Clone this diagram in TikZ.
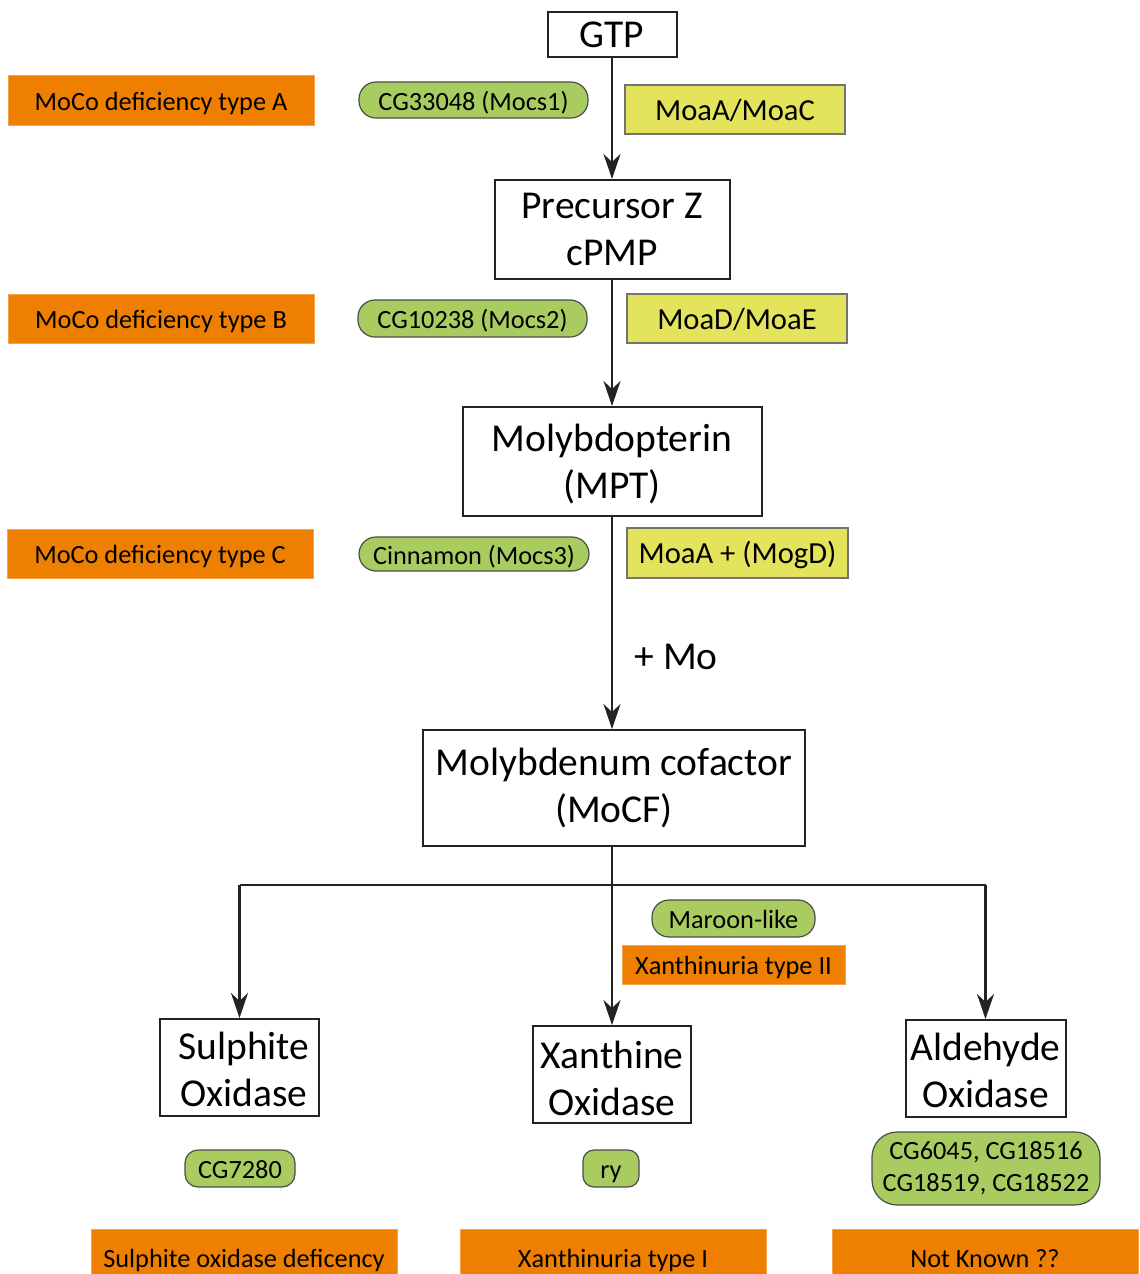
\documentclass[tikz,border=0pt]{standalone}
\usepackage{fontspec}
\setmainfont{Carlito}
\usetikzlibrary{arrows.meta}
\definecolor{orangec}{RGB}{239,127,0}
\definecolor{greenc}{RGB}{169,204,96}
\definecolor{yellowc}{RGB}{228,228,92}
\definecolor{linec}{RGB}{35,35,35}
\newcommand\mytwolines[3]{\rule{0pt}{#1}\smash{#2}\\\smash{#3}}
\begin{document}
\begin{tikzpicture}[x=1pt,y=-1pt,
  bigbox/.style={draw=linec, line width=2pt, fill=white, inner sep=0pt, align=center, font=\fontsize{39.5}{47}\selectfont},
  orangebox/.style={fill=orangec, draw=orangec!70!white, line width=0.8pt, inner sep=0pt, text height=22pt, text depth=2pt, font=\fontsize{26.3}{30}\selectfont},
  pill/.style={fill=greenc, draw=black!70, line width=1.2pt, rounded corners=17pt, inner sep=0pt, align=center, font=\fontsize{26.3}{32}\selectfont},
  pillone/.style={pill, text height=22pt, text depth=2pt},
  yelbox/.style={fill=yellowc, draw=black!55, line width=1.2pt, inner sep=0pt, text height=24pt, text depth=3pt, font=\fontsize{30.6}{36}\selectfont},
  arr/.style={draw=linec, line width=2.2pt, -{Stealth[length=25pt,width=17pt,inset=8pt]}},
  plain/.style={draw=linec, line width=2.2pt}
]
\useasboundingbox (0,0) rectangle (1140,1274);
\fill[white] (0,0) rectangle (1140,1274);

% main column
\node[bigbox, minimum width=129pt, minimum height=45pt] (gtp) at (612,34.5) {GTP};
\node[bigbox, minimum width=235pt, minimum height=99pt] (prec) at (612,229.5) {Precursor Z\\cPMP};
\node[bigbox, text depth=0pt, minimum width=299pt, minimum height=109pt] (mpt) at (612,461.5) {Molybdopterin\\(MPT)};
\node[bigbox, minimum width=382pt, minimum height=116pt] (mocf) at (614,788) {Molybdenum cofactor\\(MoCF)};
\node[bigbox, minimum width=159pt, minimum height=97pt] (sul) at (239.5,1067.5) {\mytwolines{30pt}{\hspace*{9pt}Sulphite}{\hspace*{9pt}Oxidase}};
\node[bigbox, minimum width=158pt, minimum height=97pt] (xan) at (612,1074.5) {\mytwolines{34pt}{Xanthine}{Oxidase}};
\node[bigbox, minimum width=160pt, minimum height=97pt] (ald) at (985.5,1068.5) {\mytwolines{30pt}{Aldehyde}{Oxidase}};
\node[font=\fontsize{39.5}{47}\selectfont, inner sep=0pt] (mo) at (676,657) {+ Mo};

% orange boxes
\node[orangebox, minimum width=306pt, minimum height=50pt] (dA) at (161,100) {MoCo deficiency type A};
\node[orangebox, minimum width=306pt, minimum height=49pt] (dB) at (161,318.5) {MoCo deficiency type B};
\node[orangebox, minimum width=306pt, minimum height=49pt] (dC) at (160,553.5) {MoCo deficiency type C};
\node[orangebox, minimum width=223pt, minimum height=39pt] (x2) at (733.5,964.5) {Xanthinuria type II};
\node[orangebox, minimum width=306pt, minimum height=56pt] (sd) at (244,1257) {Sulphite oxidase deficency};
\node[orangebox, minimum width=306pt, minimum height=56pt] (x1) at (613,1257) {Xanthinuria type I};
\node[orangebox, minimum width=306pt, minimum height=56pt] (nk) at (985,1257) {Not Known ??};

% green pills
\node[pillone, minimum width=229pt, minimum height=36pt] (g1) at (473.5,100) {CG33048 (Mocs1)};
\node[pillone, minimum width=229pt, minimum height=37pt] (g2) at (472.5,318.5) {CG10238 (Mocs2)};
\node[pillone, minimum width=230pt, minimum height=34pt] (g3) at (474,554) {Cinnamon (Mocs3)};
\node[pillone, minimum width=163pt, minimum height=37pt] (gm) at (733.5,918.5) {Maroon-like};
\node[pillone, rounded corners=13pt, minimum width=110pt, minimum height=37pt] (gs) at (240,1168.5) {CG7280};
\node[pillone, rounded corners=11pt, minimum width=56pt, minimum height=37pt] (gr) at (611,1168.5) {ry};
\node[pill, rounded corners=25pt, minimum width=228pt, minimum height=73pt] (ga) at (986,1168.5) {CG6045, CG18516\\CG18519, CG18522};

% yellow boxes
\node[yelbox, minimum width=220pt, minimum height=49pt] (y1) at (735,109.5) {MoaA/MoaC};
\node[yelbox, minimum width=220pt, minimum height=49pt] (y2) at (737,318.5) {MoaD/MoaE};
\node[yelbox, minimum width=221pt, minimum height=50pt] (y3) at (737.5,553) {MoaA + (MogD)};

% connectors
\draw[arr] (gtp.south) -- (prec.north);
\draw[arr] (prec.south) -- (mpt.north);
\draw[arr] (mpt.south) -- (mpt.south |- mocf.north);
\coordinate (j) at (612,885);
\draw[arr] (mocf.south -| xan.north) -- (xan.north);
\draw[plain] (sul.north |- j) -- (ald.north |- j);
\draw[arr] (sul.north |- j) -- (sul.north);
\draw[arr] (ald.north |- j) -- (ald.north);
\end{tikzpicture}
\end{document}
